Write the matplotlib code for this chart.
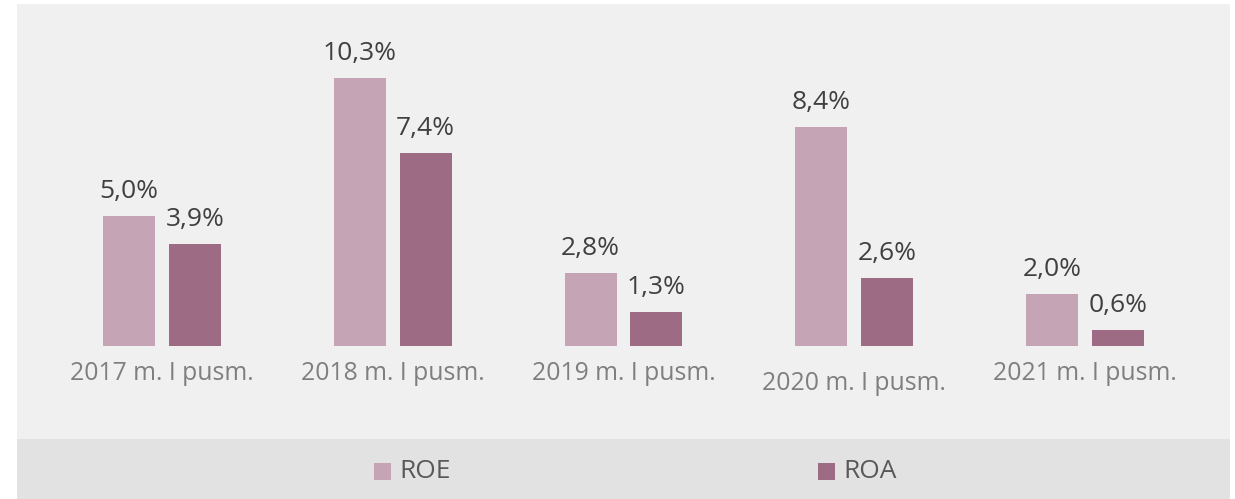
import matplotlib
matplotlib.use('Agg')
from matplotlib import pyplot as plt
from matplotlib.patches import Rectangle
import numpy as np

categories = ['2017 m. I pusm.', '2018 m. I pusm.', '2019 m. I pusm.', '2020 m. I pusm.', '2021 m. I pusm.']
roe = [5.0, 10.3, 2.8, 8.4, 2.0]
roa = [3.9, 7.4, 1.3, 2.6, 0.6]
series_names = ['ROE', 'ROA']

c_roe = '#c4a4b5'
c_roa = '#9e6b85'

plt.rcParams['font.family'] = ['Open Sans', 'DejaVu Sans']

W, H = 1235, 499
fig = plt.figure(figsize=(W / 100, H / 100), dpi=100, facecolor='white')

def px(x0, y0, w, h):
    # pixel box (from top-left) -> figure fraction
    return [x0 / W, 1 - (y0 + h) / H, w / W, h / H]

# backgrounds
bg = px(17, 4, 1213, 495)
fig.add_artist(Rectangle((bg[0], bg[1]), bg[2], bg[3], transform=fig.transFigure, facecolor='#f0f0f0', edgecolor='none', zorder=0))
lg = px(17, 439, 1213, 60)
fig.add_artist(Rectangle((lg[0], lg[1]), lg[2], lg[3], transform=fig.transFigure, facecolor='#e2e2e2', edgecolor='none', zorder=0))

# axes: x from -0.5..4.5 -> 46.5..1200.5 px, baseline at 345.7 px, 26 px per %
ymax = 12.0
ax = fig.add_axes(px(46.5, 345.7 - 26 * ymax, 1154, 26 * ymax))
ax.set_facecolor('none')
ax.set_xlim(-0.5, 4.5)
ax.set_ylim(0, ymax)

x = np.arange(len(categories))
bw = 52 / 231.
off = 33 / 231.
b1 = ax.bar(x - off, roe, bw, color=c_roe, label=series_names[0])
b2 = ax.bar(x + off, roa, bw, color=c_roa, label=series_names[1])

for bars, vals in [(b1, roe), (b2, roa)]:
    for b, v in zip(bars, vals):
        ax.annotate(('%.1f%%' % v).replace('.', ','), (b.get_x() + b.get_width() / 2, v),
                    xytext=(0, 8.5), textcoords='offset points', ha='center', va='bottom',
                    fontsize=19, color='#404040')

for s in ax.spines.values():
    s.set_visible(False)
ax.set_yticks([])
ax.set_xticks([])
label_dy = [0, 0, 0, 10, 0]
for i, c in enumerate(categories):
    ax.annotate(c, (i, 0), xytext=(0, -(28 + label_dy[i]) * 0.72), textcoords='offset points',
                ha='center', va='center', fontsize=17.8, color='#7f7f7f')

# legend
for (lx, name, col) in [(374, series_names[0], c_roe), (818, series_names[1], c_roa)]:
    r = px(lx, 463, 17, 17)
    fig.add_artist(Rectangle((r[0], r[1]), r[2], r[3], transform=fig.transFigure, facecolor=col, edgecolor='none'))
    fig.text((lx + 25) / W, 1 - 471 / H, name, ha='left', va='center', fontsize=19, color='#595959')

fig.savefig('out.png', dpi=100, facecolor='white')
